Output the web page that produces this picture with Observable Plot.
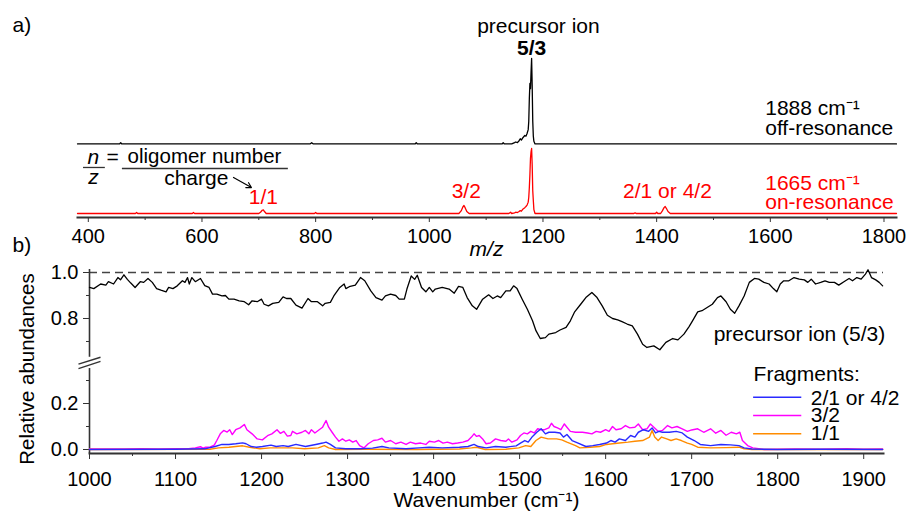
<!DOCTYPE html>
<html><head><meta charset="utf-8">
<script src="https://cdn.jsdelivr.net/npm/d3@7"></script>
<script src="https://cdn.jsdelivr.net/npm/@observablehq/plot@0.6"></script>
<style>
body{margin:0;background:#fff;}
#wrap{position:relative;width:907px;height:513px;background:#fff;}
#wrap svg{position:absolute;left:0;}
</style></head><body><div id="wrap"></div>
<script>
// ---------- Panel a: mass spectra ----------
const mzMajorTicks = [400, 600, 800, 1000, 1200, 1400, 1600, 1800];
const mzMinorTicks = [500, 700, 900, 1100, 1300, 1500, 1700];
// off-resonance (1888 cm-1), black
const blackMz  = [381, 455, 457, 459, 790, 793, 796, 975, 977, 979, 1128, 1130, 1132, 1145, 1150, 1152, 1155, 1158, 1160, 1162, 1165, 1168, 1170, 1172, 1174, 1175, 1176, 1177, 1178, 1179, 1180, 1181, 1182, 1183, 1184, 1186, 1822];
const blackInt = [0, 0, 0.02, 0, 0, 0.02, 0, 0, 0.02, 0, 0, 0.02, 0, 0, 0.02, 0.03, 0.02, 0.05, 0.08, 0.06, 0.1, 0.13, 0.12, 0.16, 0.22, 0.35, 0.7, 0.93, 0.85, 1.1, 1.315, 0.9, 0.35, 0.12, 0.04, 0, 0];
// on-resonance (1665 cm-1), red
const redMz  = [381, 483, 485, 487, 583, 585, 587, 700, 703, 706, 708, 710, 713, 798, 800, 802, 1052, 1056, 1059, 1061, 1063, 1066, 1070, 1140, 1143, 1145, 1150, 1152, 1155, 1158, 1160, 1162, 1165, 1168, 1170, 1172, 1174, 1175, 1176, 1177, 1178, 1179, 1180, 1181, 1182, 1183, 1184, 1186, 1360, 1362, 1364, 1398, 1400, 1402, 1407, 1410, 1413, 1415, 1417, 1420, 1424, 1822];
const redInt = [0, 0, 0.015, 0, 0, 0.015, 0, 0, 0.02, 0.05, 0.057, 0.03, 0, 0, 0.015, 0, 0, 0.04, 0.1, 0.123, 0.09, 0.03, 0, 0, 0.02, 0, 0.01, 0.02, 0.015, 0.03, 0.045, 0.035, 0.07, 0.09, 0.108, 0.13, 0.175, 0.25, 0.4, 0.6, 0.85, 0.95, 1.0, 0.75, 0.35, 0.2, 0.06, 0, 0, 0.01, 0, 0, 0.02, 0, 0, 0.04, 0.09, 0.108, 0.08, 0.03, 0, 0];

// ---------- Panel b: relative abundances ----------
const wnMajorTicks = [1000, 1100, 1200, 1300, 1400, 1500, 1600, 1700, 1800, 1900];
const wnMinorTicks = [1050, 1150, 1250, 1350, 1450, 1550, 1650, 1750, 1850];
const yTickValues = [0.0, 0.2, 0.8, 1.0];
const yTickLabels = ["0.0", "0.2", "0.8", "1.0"];
const yMinorValues = [0.1, 0.3, 0.7, 0.9];

const precWn = [1000,1005,1013,1019,1022,1028,1033,1036,1040,1044,1048,1053,1059,1063,1068,1073,1078,1083,1089,1092,1097,1102,1108,1111,1114,1116,1119,1123,1129,1134,1139,1143,1148,1154,1158,1162,1168,1174,1180,1185,1189,1195,1200,1203,1208,1213,1220,1225,1229,1234,1240,1247,1254,1258,1265,1271,1274,1280,1284,1291,1296,1298,1303,1309,1315,1320,1327,1333,1340,1344,1350,1356,1360,1366,1369,1374,1378,1381,1386,1391,1395,1399,1402,1410,1418,1424,1429,1434,1439,1445,1450,1457,1464,1469,1474,1478,1484,1489,1493,1497,1503,1509,1515,1519,1524,1530,1534,1542,1547,1554,1559,1564,1571,1577,1584,1590,1596,1602,1608,1614,1619,1625,1631,1637,1643,1648,1656,1663,1670,1678,1684,1691,1697,1701,1707,1712,1718,1724,1730,1734,1740,1745,1750,1755,1761,1767,1773,1778,1784,1790,1795,1799,1803,1807,1813,1819,1825,1831,1835,1839,1844,1850,1855,1860,1866,1871,1877,1883,1887,1892,1897,1902,1905,1909,1914,1918,1922];
const precVal = [.935,.93,.95,.945,.96,.95,.978,.968,.99,.97,.954,.935,.96,.957,.974,.957,.93,.923,.916,.935,.93,.942,.964,.957,.978,.95,.978,.96,.974,.943,.935,.906,.906,.898,.9,.884,.884,.877,.873,.86,.877,.873,.884,.862,.855,.866,.87,.894,.887,.887,.858,.845,.887,.873,.873,.855,.866,.87,.898,.935,.95,.93,.94,.945,.978,.964,.92,.891,.88,.898,.906,.9,.884,.884,.928,.985,.97,.988,.935,.916,.935,.916,.928,.935,.928,.91,.94,.935,.891,.855,.84,.884,.903,.887,.898,.891,.92,.92,.942,.93,.884,.84,.79,.747,.713,.717,.732,.739,.75,.761,.79,.829,.862,.891,.913,.891,.855,.814,.8,.794,.786,.776,.768,.732,.688,.674,.681,.664,.696,.713,.707,.732,.765,.79,.829,.834,.848,.862,.891,.898,.873,.84,.823,.855,.898,.957,.974,.971,.957,.95,.93,.916,.95,.964,.964,.978,.971,.968,.957,.971,.95,.957,.964,.957,.957,.945,.96,.974,.964,.978,.971,.993,1.012,.978,.968,.957,.942];

const frag32Wn = [1000,1040,1060,1080,1100,1115,1123,1129,1132,1135,1140,1145,1148,1152,1156,1160,1163,1166,1170,1175,1180,1183,1189,1195,1201,1207,1212,1218,1222,1226,1230,1234,1236,1241,1247,1251,1255,1258,1262,1267,1271,1275,1278,1282,1286,1290,1294,1298,1302,1306,1310,1314,1319,1324,1330,1335,1340,1344,1350,1356,1362,1368,1373,1379,1385,1391,1395,1401,1406,1411,1416,1422,1428,1434,1440,1444,1447,1450,1453,1457,1461,1466,1472,1478,1484,1487,1491,1497,1501,1505,1509,1513,1517,1521,1525,1529,1534,1537,1540,1544,1548,1552,1555,1559,1565,1573,1579,1584,1589,1594,1600,1604,1608,1612,1618,1623,1628,1634,1638,1643,1648,1652,1656,1661,1666,1672,1677,1683,1689,1695,1700,1707,1714,1722,1728,1734,1740,1746,1752,1756,1759,1765,1771,1778,1784,1820,1850,1880,1900,1922];
const frag32Val = [.002,.002,.004,.002,.004,.003,.007,.012,.006,.01,.01,.019,.039,.068,.083,.076,.086,.065,.086,.094,.109,.086,.068,.046,.042,.06,.068,.086,.07,.079,.058,.061,.079,.068,.075,.083,.068,.086,.072,.086,.097,.126,.097,.075,.054,.036,.046,.036,.042,.032,.039,.017,.007,.025,.039,.042,.049,.032,.039,.025,.032,.022,.032,.025,.028,.022,.036,.032,.039,.028,.032,.025,.028,.032,.039,.054,.068,.057,.061,.046,.025,.028,.046,.039,.036,.046,.032,.042,.061,.072,.068,.079,.072,.09,.086,.086,.094,.114,.1,.094,.086,.111,.097,.079,.075,.075,.072,.068,.079,.075,.086,.079,.1,.086,.09,.104,.094,.097,.111,.086,.09,.111,.097,.079,.083,.104,.094,.1,.09,.079,.085,.09,.075,.09,.071,.083,.062,.075,.068,.075,.039,.017,.007,.003,0,.002,.001,.003,.001,.002];

const frag21Wn = [1000,1100,1134,1146,1154,1162,1170,1178,1182,1188,1194,1201,1211,1217,1225,1231,1240,1251,1263,1271,1275,1280,1286,1298,1314,1329,1340,1348,1368,1383,1395,1410,1430,1440,1447,1452,1461,1472,1484,1496,1501,1506,1510,1515,1520,1525,1530,1534,1541,1547,1551,1555,1561,1568,1577,1585,1593,1601,1606,1611,1616,1623,1629,1634,1638,1644,1650,1654,1658,1662,1666,1674,1682,1689,1695,1703,1710,1722,1734,1745,1755,1761,1770,1800,1850,1922];
const frag21Val = [0,.001,.003,.013,.022,.022,.025,.029,.025,.013,.01,.013,.019,.013,.017,.013,.022,.013,.022,.028,.032,.022,.007,.003,.003,.006,.013,.007,.003,.007,.01,.007,.01,.013,.022,.013,.007,.013,.01,.016,.028,.039,.032,.057,.075,.09,.068,.075,.075,.072,.054,.065,.039,.028,.013,.017,.022,.028,.039,.032,.046,.039,.061,.054,.075,.086,.079,.094,.072,.079,.075,.075,.079,.072,.054,.039,.022,.017,.022,.02,.017,.007,.002,0,.001,0];

const frag11Wn = [1000,1140,1150,1162,1178,1186,1198,1210,1225,1236,1250,1266,1273,1278,1286,1320,1380,1430,1444,1450,1460,1484,1499,1507,1513,1519,1525,1533,1543,1549,1555,1565,1570,1582,1593,1601,1608,1616,1626,1634,1643,1651,1654,1657,1661,1665,1671,1676,1682,1688,1695,1700,1707,1722,1740,1755,1761,1770,1922];
const frag11Val = [0,.001,.007,.01,.016,.01,.003,.007,.007,.007,.003,.007,.017,.007,0,.001,0,.002,.007,.01,0,.001,.007,.017,.013,.039,.054,.046,.046,.042,.032,.017,.007,.01,.013,.022,.025,.028,.032,.036,.039,.054,.083,.054,.039,.054,.046,.039,.046,.039,.028,.022,.01,.007,.008,.01,.003,0,0];

const seriesNames = ["2/1 or 4/2", "3/2", "1/1"];
const seriesColors = ["#2a2aff", "#ff00ff", "#ff8c00"];

// ---------- drawing ----------
const FONT = "'Liberation Sans', Arial, Helvetica, sans-serif";
const AXC = "#333";
const FS = 21;               // annotation font size
const BLACK_OFFSET = 1.07;   // vertical stacking of the off-resonance trace
const BRK = 0.2304;          // shift of the upper segment of the broken axis
const plain = d => String(d);

const specBlack = blackMz.map((m, i) => ({mz: m, v: blackInt[i] + BLACK_OFFSET}));
const specRed = redMz.map((m, i) => ({mz: m, v: redInt[i]}));

const A = Plot.plot({
  width: 907, height: 268,
  marginLeft: 77, marginRight: 11, marginTop: 10, marginBottom: 51,
  style: {fontFamily: FONT, fontSize: "20px", background: "transparent", color: "black"},
  x: {domain: [381, 1822], label: null},
  y: {domain: [0, 1], range: [213, 148], axis: null, label: null},
  marks: [
    Plot.frame({anchor: "bottom", stroke: AXC, strokeWidth: 2}),
    Plot.axisX({ticks: mzMajorTicks, tickFormat: plain, tickSize: 5, tickPadding: 6, stroke: AXC, label: null}),
    Plot.axisX({ticks: mzMinorTicks, tickSize: 3, tickFormat: () => "", stroke: AXC, label: null}),
    Plot.line(specBlack, {x: "mz", y: "v", stroke: "black", strokeWidth: 1.3}),
    Plot.line(specRed, {x: "mz", y: "v", stroke: "red", strokeWidth: 1.3}),
    Plot.text(["precursor ion"], {x: 1192, y: 2.877, text: d => d, fontSize: FS}),
    Plot.text(["5/3"], {x: 1180, y: 2.545, text: d => d, fontSize: FS, fontWeight: "bold"}),
    Plot.text(["1888 cm⁻¹"], {x: 1591, y: 1.615, text: d => d, fontSize: FS, textAnchor: "start"}),
    Plot.text(["off-resonance"], {x: 1591, y: 1.307, text: d => d, fontSize: FS, textAnchor: "start"}),
    Plot.text(["1665 cm⁻¹"], {x: 1591, y: 0.46, text: d => d, fontSize: FS, textAnchor: "start", fill: "red"}),
    Plot.text(["on-resonance"], {x: 1591, y: 0.175, text: d => d, fontSize: FS, textAnchor: "start", fill: "red"}),
    Plot.text(["3/2"], {x: 1065, y: 0.345, text: d => d, fontSize: FS, fill: "red"}),
    Plot.text(["2/1 or 4/2"], {x: 1419, y: 0.345, text: d => d, fontSize: FS, fill: "red"}),
    Plot.text(["1/1"], {x: 708, y: 0.252, text: d => d, fontSize: FS, fill: "red"}),
    Plot.text(["n"], {x: 409, y: 0.868, text: d => d, fontSize: FS, fontStyle: "italic"}),
    Plot.text(["z"], {x: 409, y: 0.56, text: d => d, fontSize: FS, fontStyle: "italic"}),
    Plot.ruleY([0.708], {x1: 391.6, x2: 430, stroke: AXC, strokeWidth: 1.3}),
    Plot.text(["="], {x: 442.6, y: 0.868, text: d => d, fontSize: FS}),
    Plot.text(["oligomer number"], {x: 604.4, y: 0.883, text: d => d, fontSize: 20.5}),
    Plot.ruleY([0.692], {x1: 460, x2: 752, stroke: AXC, strokeWidth: 1.3}),
    Plot.text(["charge"], {x: 590, y: 0.54, text: d => d, fontSize: FS}),
    Plot.arrow([0], {x1: 655.5, y1: 0.554, x2: 687, y2: 0.40, stroke: "black", strokeWidth: 1.2, headLength: 7}),
    Plot.text(["m/z"], {x: 1100.6, y: -0.554, text: d => d, fontSize: FS, fontStyle: "italic"}),
    Plot.text(["a)"], {frameAnchor: "top-left", lineAnchor: "middle", dx: -65, dy: 15, textAnchor: "start", text: d => d, fontSize: FS}),
    Plot.text(["b)"], {x: 381, y: -0.492, dx: -65, textAnchor: "start", text: d => d, fontSize: FS})
  ]
});

const toP = v => (v >= 0.5 ? v - BRK : v);
const tickLabelOf = new Map(yTickValues.map((v, i) => [toP(v), yTickLabels[i]]));
const prec = precWn.map((w, i) => ({w, p: toP(precVal[i])}));
const fragSets = [
  {wn: frag32Wn, val: frag32Val, k: 1},
  {wn: frag11Wn, val: frag11Val, k: 2},
  {wn: frag21Wn, val: frag21Val, k: 0}
];
const legendY = [0.227, 0.148, 0.068];
const legendTextY = [0.223, 0.149, 0.07];

const B = Plot.plot({
  width: 907, height: 255,
  marginLeft: 89, marginRight: 24, marginTop: 14, marginBottom: 60,
  style: {fontFamily: FONT, fontSize: "20px", background: "transparent", color: "black"},
  x: {domain: [1000, 1923], label: null},
  y: {domain: [0, 0.7696], range: [191, 14], axis: null, label: null},
  marks: [
    Plot.ruleY([toP(1.0)], {stroke: "#444", strokeWidth: 1.4, strokeDasharray: "8,5"}),
    Plot.frame({anchor: "bottom", stroke: AXC, strokeWidth: 2}),
    Plot.ruleX([1000], {y1: 0.7826, y2: 0.401, stroke: AXC, strokeWidth: 1.6}),
    Plot.ruleX([1000], {y1: 0.352, y2: -0.0174, stroke: AXC, strokeWidth: 1.6}),
    Plot.link([0], {x1: 987.2, y1: 0.371, x2: 1012.8, y2: 0.401, stroke: AXC, strokeWidth: 1.4}),
    Plot.link([0], {x1: 987.2, y1: 0.352, x2: 1012.8, y2: 0.383, stroke: AXC, strokeWidth: 1.4}),
    Plot.axisX({ticks: wnMajorTicks, tickFormat: plain, tickSize: 6, tickPadding: 12, stroke: AXC, label: null}),
    Plot.axisX({ticks: wnMinorTicks, tickSize: 3, tickFormat: () => "", stroke: AXC, label: null}),
    Plot.axisY({ticks: yTickValues.map(toP), tickFormat: d => tickLabelOf.get(d), tickSize: 6, tickPadding: 5, stroke: AXC, label: null}),
    Plot.axisY({ticks: yMinorValues.map(toP), tickFormat: () => "", tickSize: 3, stroke: AXC, label: null}),
    Plot.line(prec, {x: "w", y: "p", stroke: "black", strokeWidth: 1.3}),
    ...fragSets.map(s => Plot.line(s.wn.map((w, i) => ({w, v: s.val[i]})), {x: "w", y: "v", stroke: seriesColors[s.k], strokeWidth: 1.4})),
    Plot.text(["precursor ion (5/3)"], {x: 1725.6, y: 0.502, text: d => d, fontSize: FS, textAnchor: "start"}),
    Plot.text(["Fragments:"], {x: 1772, y: 0.326, text: d => d, fontSize: FS, textAnchor: "start"}),
    ...seriesNames.map((n, i) => Plot.ruleY([legendY[i]], {x1: 1772, x2: 1828, stroke: seriesColors[i], strokeWidth: 1.5})),
    Plot.text(seriesNames, {x: 1838.4, y: (d, i) => legendTextY[i], text: d => d, fontSize: FS, textAnchor: "start"}),
    Plot.text(["Relative abundances"], {x: 1000, y: 0.35, dx: -62, rotate: -90, text: d => d, fontSize: 20.5}),
    Plot.text(["Wavenumber (cm⁻¹)"], {frameAnchor: "bottom", lineAnchor: "middle", dy: 47, text: d => d, fontSize: FS})
  ]
});

A.style.top = "0px";
B.style.top = "258px";
document.getElementById("wrap").append(A, B);
</script>
</body></html>
